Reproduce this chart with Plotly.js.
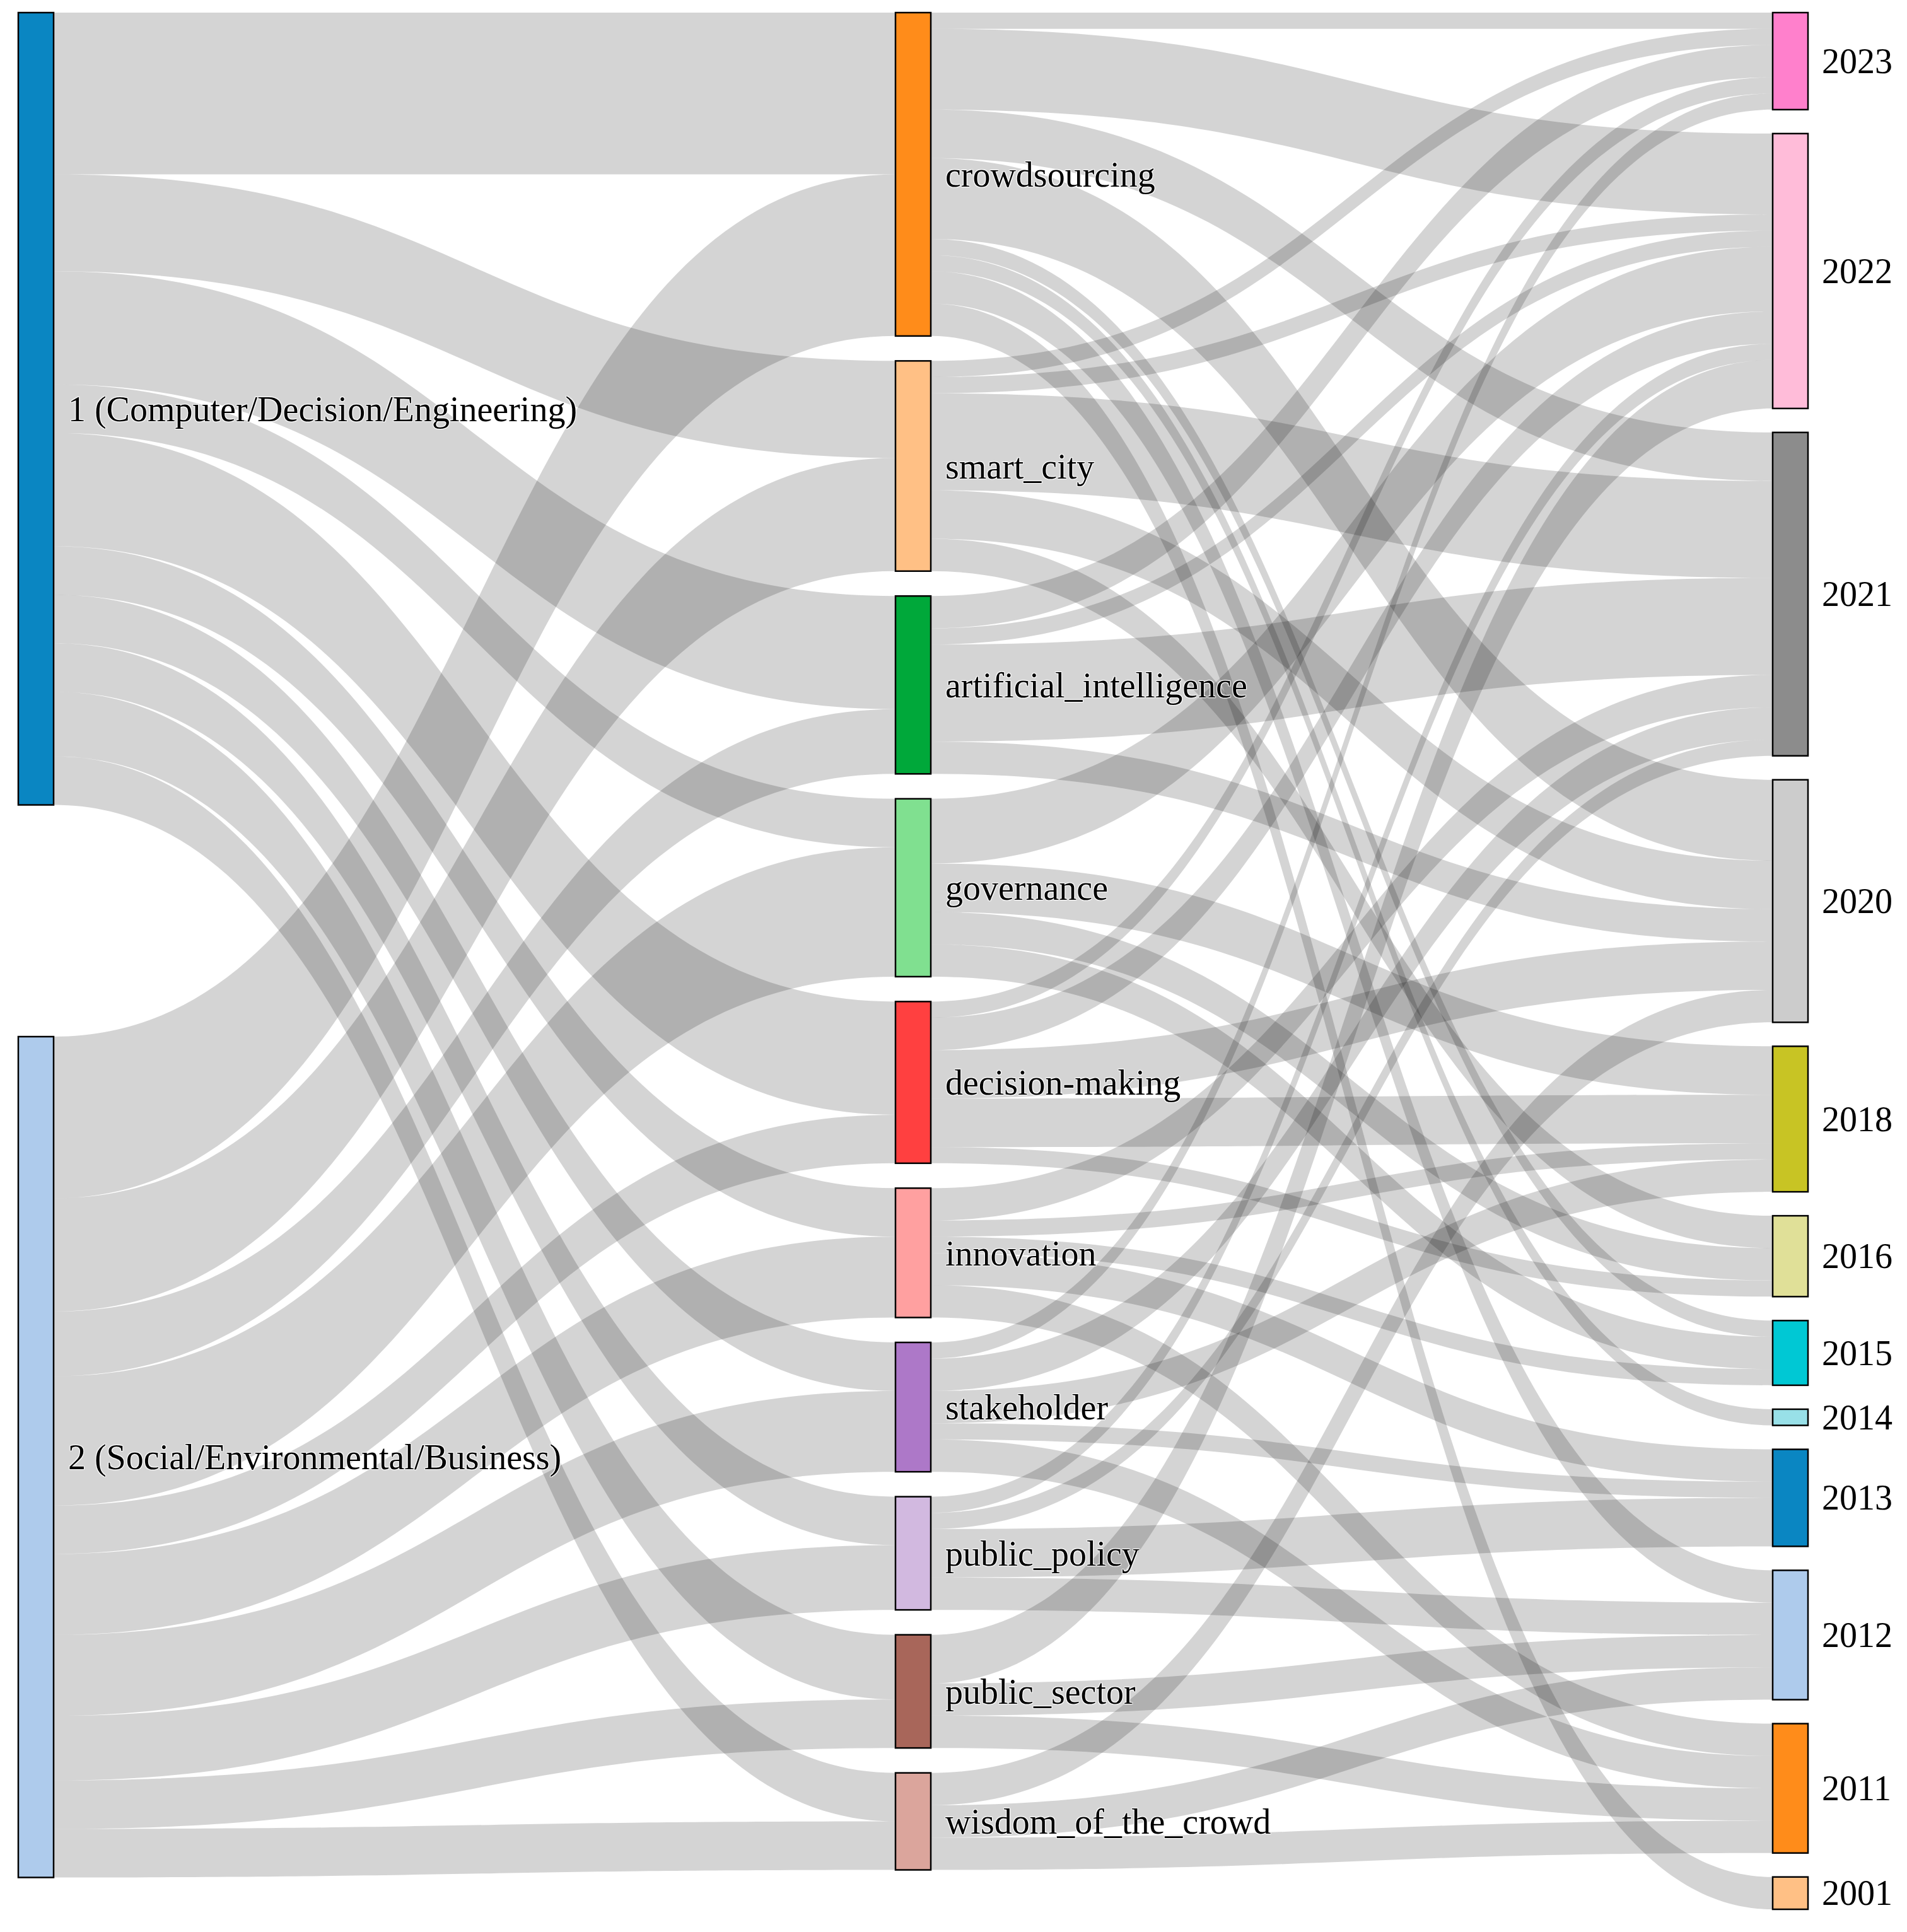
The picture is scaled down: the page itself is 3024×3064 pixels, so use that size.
<!DOCTYPE html>
<html><head><meta charset="utf-8">
<script src="https://cdn.plot.ly/plotly-3.0.1.min.js"></script>
<style>html,body{margin:0;padding:0;background:#fff}</style>
</head><body><div id="chart" style="width:3024px;height:3064px"></div>
<script>
// ---- data ----
const clusters = ["1 (Computer/Decision/Engineering)", "2 (Social/Environmental/Business)"];
const keywords = ["crowdsourcing","smart_city","artificial_intelligence","governance","decision-making",
                  "innovation","stakeholder","public_policy","public_sector","wisdom_of_the_crowd"];
const years = ["2023","2022","2021","2020","2018","2016","2015","2014","2013","2012","2011","2001"];
// cluster -> keyword counts (rows: clusters, cols: keywords)
const clusterKeyword = [
  [10, 6, 7, 3, 7, 3, 3, 3, 4, 3],
  [10, 7, 4, 8, 3, 5, 5, 4, 3, 3]
];
// keyword -> year counts (rows: keywords, cols: years 2023..2001)
const crowdsourcingYears = [1,5,3,5,0,0,1,1,0,2,0,2];
const smartCityYears     = [1,1,6,3,0,2,0,0,0,0,0,0];
const aiYears            = [2,1,6,2,0,0,0,0,0,0,0,0];
const governanceYears    = [0,4,0,0,3,2,2,0,0,0,0,0];
const decisionYears      = [1,2,0,3,3,1,0,0,0,0,0,0];
const innovationYears    = [0,0,2,0,1,0,1,0,2,0,2,0];
const stakeholderYears   = [1,0,2,0,2,0,0,0,1,0,2,0];
const publicPolicyYears  = [0,1,1,0,0,0,0,0,3,2,0,0];
const publicSectorYears  = [0,3,0,0,0,0,0,0,0,2,2,0];
const wisdomYears        = [0,0,0,2,0,0,0,0,0,2,2,0];
const keywordYear = [crowdsourcingYears, smartCityYears, aiYears, governanceYears, decisionYears,
                     innovationYears, stakeholderYears, publicPolicyYears, publicSectorYears, wisdomYears];

// ---- styles ----
const clusterColors = ["#0a86c2","#aecbec"];
const keywordColors = ["#ff8c1a","#ffc085","#00a83a","#80e090","#ff4040","#ffa0a0","#ad78c8","#d2b9e0","#a8665a","#dba59c"];
const yearColors = ["#ff80cc","#ffbcd9","#8c8c8c","#cccccc","#c8c424","#e0e098","#00c8d4","#98e0e8","#0a86c2","#aecbec","#ff8c1a","#ffc085"];
const FONT = 'Liberation Serif, Times New Roman, serif';
const FS = 56;

const W = 3024, H = 3064;
const margin = {l: 29, r: 157, t: 20, b: 36};
const plotW = W - margin.l - margin.r, plotH = H - margin.t - margin.b;
const T = 56, P = 38, PK = 39.5;

function darker(hex, f) {
  const n = parseInt(hex.slice(1), 16);
  const ch = s => Math.round(((n >> s) & 255) * f).toString(16).padStart(2, '0');
  return '#' + ch(16) + ch(8) + ch(0);
}
const sum = a => a.reduce((s, v) => s + v, 0);

const kwTotals = keywords.map((_, k) => sum(clusterKeyword.map(r => r[k])));
const yrTotals = years.map((_, y) => sum(keywordYear.map(r => r[y])));
const clTotals = clusterKeyword.map(sum);
const total = sum(yrTotals);
const ky = (plotH - (years.length - 1) * P) / total;

function stackCenters(vals, gap) {
  let acc = 0; const out = [];
  vals.forEach(v => { out.push((acc + v * ky / 2) / plotH); acc += v * ky + gap; });
  return out;
}
const kwY = stackCenters(kwTotals, PK);
const yrY = stackCenters(yrTotals, P);
const kwBottom = sum(kwTotals) * ky + (keywords.length - 1) * PK;
const clY = [clTotals[0] * ky / 2 / plotH, (kwBottom + 12 - clTotals[1] * ky / 2) / plotH];

const xl = (T / 2) / plotW, xm = 0.5, xr = 1 - (T / 2) / plotW;

const pad = '\u2004';
const labels = [...clusters.map(s => pad + s), ...keywords.map(s => pad + s), ...years.map(() => '')];
const nodeColors = [...clusterColors, ...keywordColors, ...yearColors];
const nodeX = [...clusters.map(() => xl), ...keywords.map(() => xm), ...years.map(() => xr)];
const nodeY = [...clY, ...kwY, ...yrY];

const src = [], tgt = [], val = [];
clusterKeyword.forEach((row, c) => row.forEach((v, k) => { if (v > 0) { src.push(c); tgt.push(2 + k); val.push(v); } }));
keywordYear.forEach((row, k) => row.forEach((v, y) => { if (v > 0) { src.push(2 + k); tgt.push(2 + keywords.length + y); val.push(v); } }));

const trace = {
  type: 'sankey',
  arrangement: 'fixed',
  orientation: 'h',
  hoverinfo: 'none',
  textfont: {family: FONT, size: FS, color: '#000'},
  node: {
    label: labels,
    color: nodeColors,
    x: nodeX, y: nodeY,
    thickness: T, pad: P,
    line: {color: nodeColors.map(c => darker(c, 0.62)), width: 2.5},
    hoverinfo: 'none'
  },
  link: {
    source: src, target: tgt, value: val,
    color: 'rgba(0,0,0,0.17)',
    hoverinfo: 'none'
  }
};

// year labels to the right of the last column
const yearAnnotations = years.map((yr, i) => ({
  xref: 'paper', yref: 'paper',
  x: xr + (T / 2 + 20) / plotW, y: 1 - yrY[i],
  xanchor: 'left', yanchor: 'middle',
  text: yr, showarrow: false,
  font: {family: FONT, size: FS, color: '#000'}
}));

Plotly.newPlot('chart', [trace], {
  width: W, height: H, margin: margin,
  paper_bgcolor: '#fff', plot_bgcolor: '#fff',
  font: {family: FONT, size: FS, color: '#000'},
  annotations: yearAnnotations
}, {staticPlot: true});
</script></body></html>
